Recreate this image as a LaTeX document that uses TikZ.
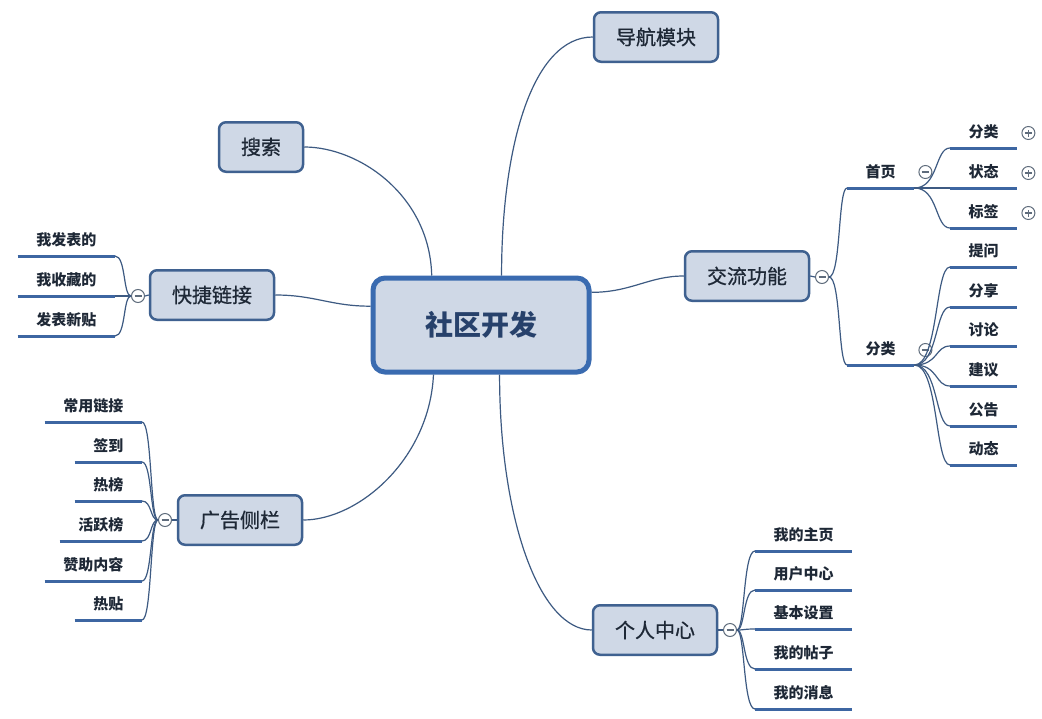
\documentclass[tikz,border=0pt]{standalone}
\usepackage{fontspec}
\setmainfont{Noto Sans CJK SC}
\newfontface\topicface{Noto Sans CJK SC}[FakeBold=0.8]
\usetikzlibrary{calc}

\definecolor{boxfill}{HTML}{CFD8E6}
\definecolor{boxline}{HTML}{3F6190}
\definecolor{coreline}{HTML}{3A6BB0}
\definecolor{wirecol}{HTML}{3D5A82}
\definecolor{ulinecol}{HTML}{3D66A2}
\definecolor{ink}{HTML}{1E2836}
\definecolor{coreink}{HTML}{27416B}
\definecolor{knobgray}{HTML}{5F6C7C}

\begin{document}
\begin{tikzpicture}[x=1pt,y=-1pt,
  topic/.style={draw=boxline, line width=2.5pt, fill=boxfill, rounded corners=7pt,
    minimum height=49.5pt, inner xsep=22pt, inner ysep=0pt, text=ink,
    font=\fontsize{20}{24}\topicface},
  core/.style={draw=coreline, line width=5pt, fill=boxfill, rounded corners=12pt,
    minimum width=216pt, minimum height=94pt, text=coreink,
    font=\fontsize{28}{32}\selectfont\bfseries},
  leaf/.style={inner xsep=18.5pt, inner ysep=7pt, text height=11pt, text depth=3pt,
    text=ink, font=\fontsize{15}{18}\selectfont\bfseries},
  wire/.style={draw=wirecol, line width=1.2pt},
  uline/.style={draw=ulinecol, line width=3pt},
  knob/.style={circle, draw=knobgray, line width=1pt, fill=white,
    minimum size=13pt, inner sep=0pt},
  knobminus/.style={knob, path picture={
    \draw[knobgray, line width=1.1pt]
      ([xshift=-3.5pt]path picture bounding box.center) --
      ([xshift=3.5pt]path picture bounding box.center);}},
  knobplus/.style={knob, path picture={
    \draw[knobgray, line width=1.1pt]
      ([xshift=-3.5pt]path picture bounding box.center) --
      ([xshift=3.5pt]path picture bounding box.center)
      ([yshift=-3.5pt]path picture bounding box.center) --
      ([yshift=3.5pt]path picture bounding box.center);}},
]
\useasboundingbox (0,0) rectangle (1042,718);
\fill[white] (0,0) rectangle (1042,718);

% central topic and main branches
\node[core]  (core)   at (481,325) {社区开发};
\node[topic] (nav)    at (656,37)  {导航模块};
\node[topic] (search) at (261,147) {搜索};
\node[topic] (quick)  at (212,295) {快捷链接};
\node[topic] (ad)     at (240,520) {广告侧栏};
\node[topic] (talk)   at (747,276) {交流功能};
\node[topic] (me)     at (655,630) {个人中心};

\draw[wire] ($(core.north west)!0.593!(core.north east)$)
  .. controls +(0,-130) and +(-60,0) .. (nav.west);
\draw[wire] ($(core.north west)!0.277!(core.north east)$)
  .. controls +(-2,-80) and +(55,0) .. (search.east);
\draw[wire] ($(core.north west)!0.31!(core.south west)$)
  .. controls +(-40,0) and +(40,0) .. (quick.east);
\draw[wire] ($(core.south west)!0.285!(core.south east)$)
  .. controls +(-4,85) and +(55,0) .. (ad.east);
\draw[wire] ($(core.south west)!0.584!(core.south east)$)
  .. controls +(0,145) and +(-52,0) .. (me.west);
\draw[wire] ($(core.north east)!0.17!(core.south east)$)
  .. controls +(40,0) and +(-35,0) .. (talk.west);

% collapse knobs on the main branches
\node[knobminus] (kquick) at (138,296) {};
\node[knobminus] (kad)    at (165,520) {};
\node[knobminus] (ktalk)  at (822,277) {};
\node[knobminus] (kme)    at (730,630) {};
\draw[wire] (quick.west) -- (kquick.east);
\draw[wire] (ad.west) -- (kad.east);
\draw[wire] (talk.east) -- (ktalk.west);
\draw[wire] (me.east) -- (kme.west);

% 交流功能 -> 首页 / 分类
\node[leaf, anchor=south west] (home) at (847,188) {首页};
\node[leaf, anchor=south west] (cat)  at (847,365) {分类};
\foreach \n in {home,cat} {
  \draw[uline] (\n.south west) -- (\n.south east);
  \draw[wire] (ktalk.east) .. controls +(12,0) and +(-9,0) .. (\n.south west);
}
\node[knobminus] (khome) at ($(home.south east)+(11,-16)$) {};
\node[knobminus] (kcat)  at ($(cat.south east)+(11,-15)$) {};

% 首页 children
\foreach \t/\y/\nm in {分类/148/ha, 状态/188/hb, 标签/228/hc} {
  \node[leaf, anchor=south west] (\nm) at (950,\y) {\t};
  \draw[uline] (\nm.south west) -- (\nm.south east);
  \draw[wire] (home.south east) .. controls +(24,0) and +(-15,0) .. (\nm.south west);
  \node[knobplus] (k\nm) at ($(\nm.south east)+(11,-15)$) {};
}

% 分类 children
\foreach \t/\y/\nm in {提问/267/ca, 分享/307/cb, 讨论/346/cc, 建议/386/cd, 公告/426/ce, 动态/465/cf} {
  \node[leaf, anchor=south west] (\nm) at (950,\y) {\t};
  \draw[uline] (\nm.south west) -- (\nm.south east);
  \draw[wire] (cat.south east) .. controls +(24,0) and +(-15,0) .. (\nm.south west);
}

% 快捷链接 children
\foreach \t/\y/\nm in {我发表的/256/qa, 我收藏的/296/qb, 发表新贴/336/qc} {
  \node[leaf, anchor=south east] (\nm) at (115,\y) {\t};
  \draw[uline] (\nm.south west) -- (\nm.south east);
  \draw[wire] (kquick.west) .. controls +(-8,0) and +(11,0) .. (\nm.south east);
}

% 广告侧栏 children
\foreach \t/\y/\nm in {常用链接/422/aa, 签到/462/ab, 热榜/501/ac, 活跃榜/541/ad, 赞助内容/581/ae, 热贴/620/af} {
  \node[leaf, anchor=south east] (\nm) at (142,\y) {\t};
  \draw[uline] (\nm.south west) -- (\nm.south east);
  \draw[wire] (kad.west) .. controls +(-8,0) and +(10,0) .. (\nm.south east);
}

% 个人中心 children
\foreach \t/\y/\nm in {我的主页/551/ma, 用户中心/590/mb, 基本设置/629/mc, 我的帖子/669/md, 我的消息/709/me} {
  \node[leaf, anchor=south west] (\nm) at (755,\y) {\t};
  \draw[uline] (\nm.south west) -- (\nm.south east);
  \draw[wire] (kme.east) .. controls +(8,0) and +(-12,0) .. (\nm.south west);
}
\end{tikzpicture}
\end{document}
